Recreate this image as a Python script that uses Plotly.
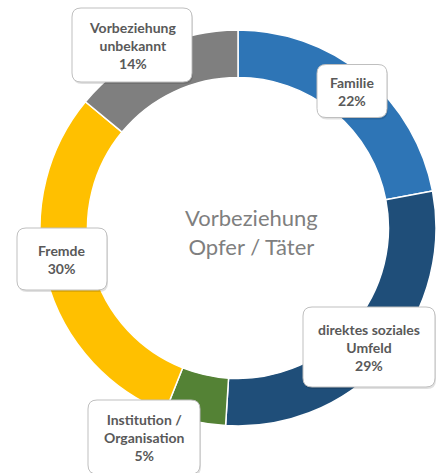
import plotly.graph_objects as go

categories = ["Familie", "direktes soziales Umfeld", "Institution / Organisation", "Fremde", "Vorbeziehung unbekannt"]
label_lines = ["Familie", "direktes soziales<br>Umfeld", "Institution /<br>Organisation", "Fremde", "Vorbeziehung<br>unbekannt"]
values = [22, 29, 5, 30, 14]
colors = ["#2E75B6", "#1F4E79", "#548235", "#FFC000", "#7F7F7F"]
center_title = "Vorbeziehung<br>Opfer / Täter"

# label box layout (pixel coordinates: center x, center y, width, height)
boxes = [
    (352, 91, 70, 53),
    (369, 347, 132, 80),
    (144, 437, 112, 74),
    (62, 259, 90, 62),
    (132, 45, 120, 74),
]

W, H = 436, 473


def rrect(x0, y0, x1, y1, r):
    return (f"M {x0 + r},{y0} L {x1 - r},{y0} Q {x1},{y0} {x1},{y0 + r} "
            f"L {x1},{y1 - r} Q {x1},{y1} {x1 - r},{y1} L {x0 + r},{y1} "
            f"Q {x0},{y1} {x0},{y1 - r} L {x0},{y0 + r} Q {x0},{y0} {x0 + r},{y0} Z")


fig = go.Figure()
fig.add_trace(go.Pie(
    labels=categories, values=values, sort=False, direction="clockwise", rotation=0,
    hole=0.76, textinfo="none", showlegend=False,
    marker=dict(colors=colors, line=dict(color="white", width=1.5)),
    domain=dict(x=[40 / W, 1], y=[1 - 426 / H, 1 - 30 / H]),
))

shapes = []
annotations = []
for (cx, cy, bw, bh), lab, v in zip(boxes, label_lines, values):
    x0, x1 = cx - bw / 2, cx + bw / 2
    y0, y1 = cy - bh / 2, cy + bh / 2
    shapes.append(dict(type="path", xref="x", yref="y", path=rrect(x0 + 1, y0 + 2, x1 + 1, y1 + 2, 9),
                       fillcolor="rgba(0,0,0,0.12)", line=dict(width=0), layer="above"))
    shapes.append(dict(type="path", xref="x", yref="y", path=rrect(x0, y0, x1, y1, 9),
                       fillcolor="white", line=dict(color="#BFBFBF", width=1), layer="above"))
    annotations.append(dict(x=cx, y=cy, xref="x", yref="y", text=f"<b>{lab}<br>{v}%</b>",
                            showarrow=False, align="center",
                            font=dict(family="Lato", size=14, color="#595959")))

annotations.append(dict(x=251, y=232, xref="x", yref="y", text=center_title, showarrow=False,
                        align="center", font=dict(family="Lato", size=22, color="#7F7F7F")))

fig.update_layout(
    width=W, height=H, margin=dict(l=0, r=0, t=0, b=0),
    paper_bgcolor="white", plot_bgcolor="rgba(0,0,0,0)",
    xaxis=dict(range=[0, W], visible=False, fixedrange=True),
    yaxis=dict(range=[H, 0], visible=False, fixedrange=True),
    shapes=shapes, annotations=annotations,
)
fig.write_html("out.html")
